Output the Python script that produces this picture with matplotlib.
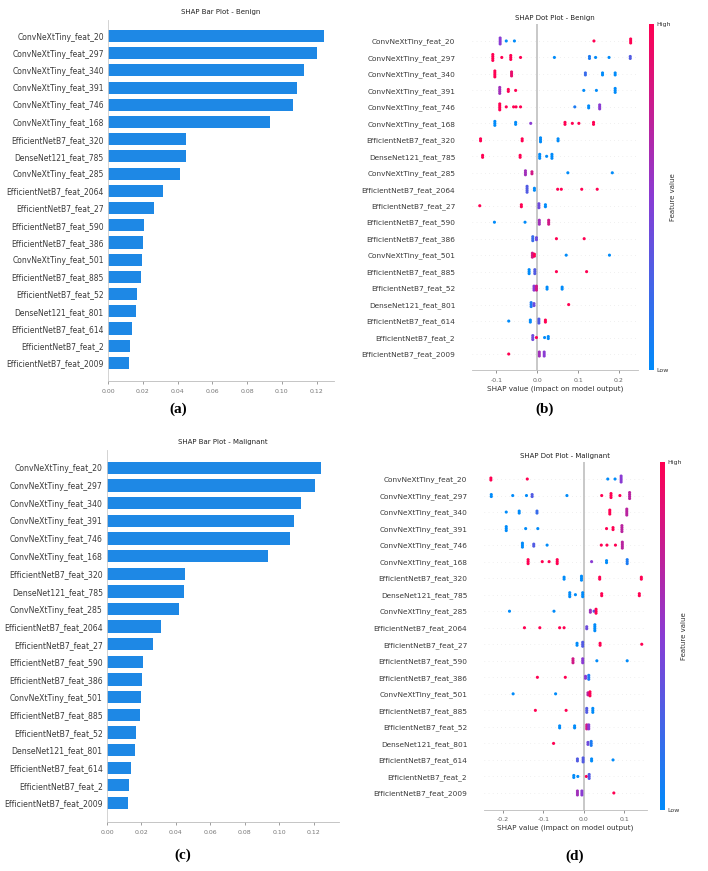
import numpy as np
import matplotlib.pyplot as plt
from matplotlib.colors import LinearSegmentedColormap
from matplotlib.cm import ScalarMappable

# feature names, most important first
features = ["ConvNeXtTiny_feat_20", "ConvNeXtTiny_feat_297", "ConvNeXtTiny_feat_340",
            "ConvNeXtTiny_feat_391", "ConvNeXtTiny_feat_746", "ConvNeXtTiny_feat_168",
            "EfficientNetB7_feat_320", "DenseNet121_feat_785", "ConvNeXtTiny_feat_285",
            "EfficientNetB7_feat_2064", "EfficientNetB7_feat_27", "EfficientNetB7_feat_590",
            "EfficientNetB7_feat_386", "ConvNeXtTiny_feat_501", "EfficientNetB7_feat_885",
            "EfficientNetB7_feat_52", "DenseNet121_feat_801", "EfficientNetB7_feat_614",
            "EfficientNetB7_feat_2", "EfficientNetB7_feat_2009"]

# mean |SHAP| (bar plots)
imp_benign = [0.124, 0.1204, 0.1125, 0.1085, 0.1064, 0.0934, 0.0451, 0.0448, 0.0417, 0.0316,
              0.0264, 0.0209, 0.0201, 0.0197, 0.0190, 0.0166, 0.0162, 0.0138, 0.0126, 0.0121]
imp_malignant = [0.124, 0.1204, 0.1125, 0.1085, 0.1064, 0.0934, 0.0451, 0.0448, 0.0417, 0.0316,
                 0.0264, 0.0209, 0.0201, 0.0197, 0.0190, 0.0166, 0.0162, 0.0138, 0.0126, 0.0121]

# dot plot benign: shap value, feature value (0 low .. 1 high), number of stacked dots
shap_b = [[-0.091, -0.076, -0.056, 0.139, 0.229],
          [-0.109, -0.087, -0.065, -0.041, 0.042, 0.128, 0.143, 0.176, 0.228],
          [-0.104, -0.063, 0.118, 0.160, 0.191],
          [-0.092, -0.071, -0.053, 0.114, 0.145, 0.191],
          [-0.092, -0.076, -0.058, -0.052, -0.041, 0.092, 0.126, 0.153],
          [-0.104, -0.053, -0.016, 0.068, 0.086, 0.102, 0.138],
          [-0.139, -0.037, 0.008, 0.051],
          [-0.134, -0.042, 0.006, 0.023, 0.036],
          [-0.029, -0.013, 0.075, 0.184],
          [-0.025, -0.007, 0.050, 0.059, 0.109, 0.147],
          [-0.141, -0.039, 0.004, 0.020],
          [-0.105, -0.030, 0.005, 0.028],
          [-0.011, -0.002, 0.047, 0.115],
          [-0.012, -0.007, 0.071, 0.177],
          [-0.020, -0.006, 0.047, 0.121],
          [-0.008, -0.002, 0.024, 0.061],
          [-0.015, -0.008, 0.077],
          [-0.070, -0.017, 0.004, 0.020],
          [-0.011, -0.002, 0.018, 0.027],
          [-0.070, 0.005, 0.017]]
fval_b = [[0.5, 0, 0, 1, 1],
          [1, 1, 1, 1, 0, 0.1, 0, 0, 0.3],
          [1, 0.9, 0.2, 0, 0],
          [0.6, 1, 1, 0, 0, 0],
          [1, 1, 1, 1, 1, 0.1, 0, 0.5],
          [0, 0, 0.5, 1, 1, 1, 1],
          [1, 1, 0, 0],
          [1, 1, 0, 0, 0],
          [0.6, 0.8, 0, 0],
          [0.3, 0, 1, 1, 1, 1],
          [1, 1, 0.4, 0],
          [0, 0, 0.6, 0.8],
          [0.2, 0.4, 1, 1],
          [0.8, 1, 0, 0],
          [0, 0.3, 1, 1],
          [0.5, 0.8, 0, 0],
          [0.1, 0.4, 1],
          [0, 0, 0.3, 1],
          [0.4, 1, 0, 0],
          [1, 0.6, 0.5]]
count_b = [[4, 1, 1, 1, 3],
           [4, 1, 3, 1, 1, 2, 1, 1, 2],
           [4, 3, 2, 2, 2],
           [4, 2, 1, 1, 1, 3],
           [4, 1, 1, 1, 1, 1, 2, 3],
           [3, 2, 1, 2, 1, 1, 2],
           [2, 2, 3, 2],
           [2, 2, 3, 1, 3],
           [3, 2, 1, 1],
           [4, 2, 1, 1, 1, 1],
           [1, 2, 3, 2],
           [1, 1, 3, 3],
           [3, 2, 1, 1],
           [3, 2, 1, 1],
           [3, 3, 1, 1],
           [3, 3, 2, 2],
           [3, 2, 1],
           [1, 2, 3, 2],
           [3, 1, 1, 2],
           [1, 3, 3]]

# dot plot malignant
shap_m = [[-0.230, -0.140, 0.059, 0.077, 0.092],
          [-0.229, -0.176, -0.142, -0.128, -0.042, 0.044, 0.067, 0.089, 0.113],
          [-0.192, -0.160, -0.116, 0.064, 0.106],
          [-0.192, -0.144, -0.114, 0.056, 0.072, 0.094],
          [-0.152, -0.124, -0.091, 0.043, 0.057, 0.078, 0.095],
          [-0.138, -0.103, -0.086, -0.066, 0.019, 0.056, 0.107],
          [-0.049, -0.006, 0.039, 0.142],
          [-0.035, -0.021, -0.003, 0.044, 0.137],
          [-0.184, -0.074, 0.016, 0.025, 0.030],
          [-0.147, -0.109, -0.060, -0.049, 0.007, 0.027],
          [-0.017, -0.003, 0.040, 0.143],
          [-0.027, -0.003, 0.032, 0.107],
          [-0.115, -0.046, 0.004, 0.012],
          [-0.175, -0.070, 0.010, 0.015],
          [-0.120, -0.044, 0.007, 0.022],
          [-0.060, -0.023, 0.007, 0.012],
          [-0.075, 0.010, 0.018],
          [-0.016, -0.002, 0.019, 0.072],
          [-0.025, -0.015, 0.006, 0.013],
          [-0.016, -0.005, 0.074]]
fval_m = [[1, 1, 0, 0, 0.5],
          [0, 0, 0, 0.3, 0, 1, 1, 1, 0.7],
          [0, 0, 0.2, 1, 0.7],
          [0, 0, 0, 1, 1, 0.7],
          [0, 0.3, 0, 1, 1, 1, 0.7],
          [1, 1, 1, 1, 0.5, 0, 0.1],
          [0, 0, 1, 1],
          [0, 0, 0, 1, 1],
          [0, 0, 0.6, 0.3, 1],
          [1, 1, 1, 1, 0.4, 0],
          [0, 0.3, 1, 1],
          [0.8, 0.5, 0, 0],
          [1, 1, 0.5, 0.1],
          [0, 0, 0.7, 1],
          [1, 1, 0.3, 0],
          [0, 0, 0.8, 0.5],
          [1, 0.4, 0.1],
          [0.3, 0.3, 0, 0],
          [0, 0, 1, 0.3],
          [0.6, 0.5, 1]]
count_m = [[2, 1, 1, 1, 4],
           [2, 1, 1, 2, 1, 1, 3, 1, 4],
           [1, 2, 2, 3, 4],
           [3, 1, 1, 1, 2, 4],
           [3, 2, 1, 1, 1, 1, 4],
           [3, 1, 1, 3, 1, 2, 3],
           [2, 3, 2, 2],
           [3, 1, 3, 2, 2],
           [1, 1, 2, 1, 3],
           [1, 1, 1, 1, 2, 4],
           [2, 3, 2, 1],
           [3, 3, 1, 1],
           [1, 1, 2, 3],
           [1, 1, 2, 3],
           [1, 1, 3, 3],
           [2, 2, 3, 3],
           [1, 2, 3],
           [2, 3, 2, 1],
           [2, 1, 1, 3],
           [3, 3, 1]]

cmap = LinearSegmentedColormap.from_list("shap_rb", ["#008bfa", "#8a3bd4", "#ff0052"])
bar_color = "#1E88E5"
W, H = 708, 871

fig = plt.figure(figsize=(W / 100, H / 100), dpi=100)


def px_axes(x0, y0, x1, y1):
    # pixel box (top-left origin) -> axes
    return fig.add_axes([x0 / W, 1 - y1 / H, (x1 - x0) / W, (y1 - y0) / H])


def bar_panel(box, vals, title, xmax, ylo, yhi, lab_size):
    ax = px_axes(*box)
    n = len(features)
    ypos = np.arange(n)[::-1]
    ax.barh(ypos, vals, height=0.7, color=bar_color, edgecolor="none")
    ax.set_yticks(ypos)
    ax.set_yticklabels(features, fontsize=lab_size, color="#3a3a3a")
    ax.set_ylim(ylo, yhi)
    ax.set_xlim(0, xmax)
    ax.set_xticks(np.arange(0, 0.121, 0.02))
    ax.set_xticklabels([f"{t:.2f}" for t in np.arange(0, 0.121, 0.02)])
    ax.tick_params(axis="x", labelsize=4.5, colors="#777777", length=2, width=0.5)
    ax.tick_params(axis="y", length=0, pad=3)
    for s in ["top", "right"]:
        ax.spines[s].set_visible(False)
    ax.spines["left"].set_color("#cccccc")
    ax.spines["bottom"].set_color("#bbbbbb")
    ax.spines["left"].set_linewidth(0.6)
    ax.spines["bottom"].set_linewidth(0.6)
    ax.set_title(title, fontsize=5, pad=4, color="#222222")
    return ax


def dot_panel(box, cbox, xs, fs, cs, title, xlim, ticks, lab_size):
    ax = px_axes(*box)
    n = len(features)
    ax.axvline(0, color="#c4c4c4", lw=1.3, zorder=0)
    for i in range(n):
        y = n - 1 - i
        ax.axhline(y, color="#e2e2e2", lw=0.5, dashes=(1, 5), zorder=-1)
        px, py, pc = [], [], []
        for xv, fv, k in zip(xs[i], fs[i], cs[i]):
            for j in range(k):
                px.append(xv)
                py.append(y + (j - (k - 1) / 2) * 0.12)
                pc.append(fv)
        ax.scatter(px, py, c=pc, cmap=cmap, vmin=0, vmax=1, s=5, lw=0, zorder=3)
    ax.set_yticks(np.arange(n)[::-1])
    ax.set_yticklabels(features, fontsize=lab_size, color="#3a3a3a")
    ax.set_ylim(-1, n)
    ax.set_xlim(*xlim)
    ax.set_xticks(ticks)
    ax.set_xticklabels([f"{t:.1f}" for t in ticks])
    ax.tick_params(axis="x", labelsize=4.5, colors="#666666", length=2, width=0.5)
    ax.tick_params(axis="y", length=0, pad=12)
    for s in ["top", "right", "left"]:
        ax.spines[s].set_visible(False)
    ax.spines["bottom"].set_color("#bbbbbb")
    ax.spines["bottom"].set_linewidth(0.6)
    ax.set_xlabel("SHAP value (impact on model output)", fontsize=5.2, color="#333333", labelpad=2)
    ax.set_title(title, fontsize=5, pad=3, color="#222222")

    cax = px_axes(*cbox)
    sm = ScalarMappable(cmap=cmap)
    sm.set_clim(0, 1)
    cb = fig.colorbar(sm, cax=cax, ticks=[0, 1])
    cb.set_ticklabels(["Low", "High"])
    cb.outline.set_visible(False)
    cb.ax.tick_params(labelsize=4.5, length=0, pad=2, colors="#333333")
    cb.set_label("Feature value", fontsize=5, labelpad=-1, color="#333333")
    return ax


bar_panel((108, 20, 334, 381), imp_benign, "SHAP Bar Plot - Benign", 0.130, -1.05, 19.93, 5.5)
dot_panel((472, 24.5, 638, 370.5), (649, 24, 654, 370), shap_b, fval_b, count_b,
          "SHAP Dot Plot - Benign", (-0.16, 0.247), [-0.1, 0.0, 0.1, 0.2], 5.3)
bar_panel((107, 450, 339, 822), imp_malignant, "SHAP Bar Plot - Malignant", 0.1346, -1.08, 20.02, 5.6)
dot_panel((484, 462.5, 647, 809.5), (660, 462, 665, 810), shap_m, fval_m, count_m,
          "SHAP Dot Plot - Malignant", (-0.247, 0.156), [-0.2, -0.1, 0.0, 0.1], 5.3)

for lab, x, y in [("(a)", 178, 409), ("(b)", 545, 409), ("(c)", 183, 855), ("(d)", 575, 856)]:
    fig.text(x / W, 1 - y / H, lab, ha="center", va="center", fontsize=11,
             fontweight="bold", family="Liberation Serif")

fig.savefig("out.png", dpi=100)
